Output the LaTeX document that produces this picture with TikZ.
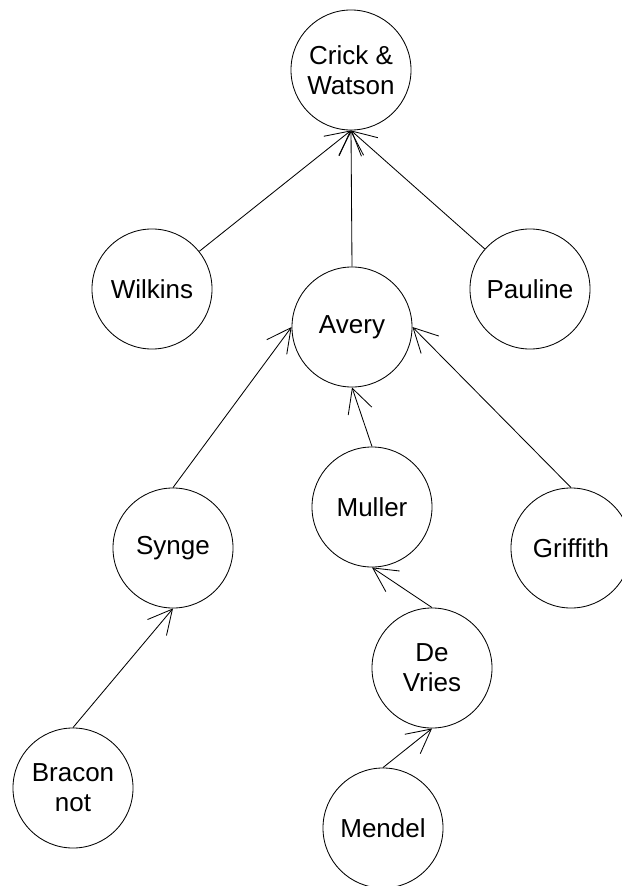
\documentclass[tikz,border=0pt]{standalone}
\usepackage{fontspec}
\setmainfont{Liberation Sans}
\usetikzlibrary{arrows.meta}

\tikzset{
  person/.style={draw, circle, minimum size=3cm, inner sep=0pt, align=center,
    font=\fontsize{18.5}{21.5}\selectfont},
  link/.style={line width=0.6pt, -{Straight Barb[length=0.6cm, width=0.62cm, line width=0.6pt]}}
}

\begin{document}
\begin{tikzpicture}[x=0.025cm, y=-0.025cm, line width=0.6pt]

\useasboundingbox (0,0) rectangle (621,886);

% People
\node[person] (crick) at (351,70) {Crick \&\\Watson};
\node[person] (wilkins) at (152,289) {Wilkins};
\node[person] (avery) at (352,327) {Avery};
\node[person] (pauline) at (530,289) {Pauline};
\node[person] (synge) at (173,548) {Synge};
\node[person] (muller) at (372,507) {Muller};
\node[person] (griffith) at (571,548) {Griffith};
\node[person] (devries) at (432,668) {De\\Vries};
\node[person] (bracon) at (73,788) {Bracon\\not};
\node[person] (mendel) at (383,828) {Mendel};

% Links to Crick & Watson
\draw[link] (wilkins) -- (crick.south);
\draw[link] (avery.north) -- (crick.south);
\draw[link] (pauline) -- (crick.south);

% Links to Avery
\draw[link] (synge.north) -- (avery.west);
\draw[link] (muller.north) -- (avery.south);
\draw[link] (griffith.north) -- (avery.east);

% Lower links
\draw[link] (bracon.north) -- (synge.south);
\draw[link] (devries.north) -- (muller.south);
\draw[link] (mendel.north) -- (devries.south);

\end{tikzpicture}
\end{document}
